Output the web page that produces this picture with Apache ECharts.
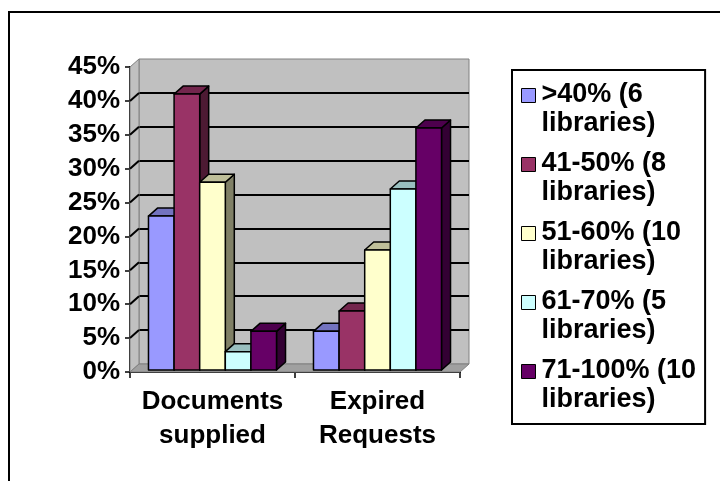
<!DOCTYPE html>
<html>
<head>
<meta charset="utf-8">
<script src="https://cdn.jsdelivr.net/npm/echarts@6/dist/echarts.min.js"></script>
<style>
  html, body { margin: 0; padding: 0; background: #fff; }
  #chart { width: 720px; height: 481px; }
</style>
</head>
<body>
<div id="chart"></div>
<script>
// data
var categories = ["Documents\nsupplied", "Expired\nRequests"];
var seriesNames = [">40% (6 libraries)", "41-50% (8 libraries)", "51-60% (10 libraries)", "61-70% (5 libraries)", "71-100% (10 libraries)"];
var band40 = [23, 6];
var band41to50 = [41, 9];
var band51to60 = [28, 18];
var band61to70 = [3, 27];
var band71to100 = [6, 36];
var yTicks = [0, 45, 5]; // min, max, step

var seriesValues = [band40, band41to50, band51to60, band61to70, band71to100];
var colors = ["#9999FF", "#993366", "#FFFFCC", "#CCFFFF", "#660066"];

// layout of the front plane + 3d depth
var L = 130, T = 67, W = 330, H = 305;
var DX = 9, DY = 8;
var FONT = '"Liberation Sans", Arial, sans-serif';

function shade(hex, k) {
  var n = parseInt(hex.slice(1), 16);
  var r = Math.round(((n >> 16) & 255) * k);
  var g = Math.round(((n >> 8) & 255) * k);
  var b = Math.round((n & 255) * k);
  return "rgb(" + r + "," + g + "," + b + ")";
}

function makeRender(idx) {
  return function (params, api) {
    var cat = api.value(0);
    var val = api.value(1);
    var base = api.coord([cat, 0]);
    var top = api.coord([cat, val]);
    var bandW = api.size([1, 0])[0];
    var groupW = bandW * 0.776;
    var bw = groupW / seriesNames.length;
    var x = base[0] - groupW / 2 + idx * bw;
    var yt = top[1], yb = base[1] - 2;
    var c = colors[idx];
    var line = { stroke: "#000", lineWidth: 1.5, lineJoin: "round" };
    return {
      type: "group",
      children: [
        { type: "polygon", shape: { points: [[x + bw, yt], [x + bw + DX, yt - DY], [x + bw + DX, yb - DY], [x + bw, yb]] },
          style: Object.assign({ fill: shade(c, 0.5) }, line) },
        { type: "polygon", shape: { points: [[x, yt], [x + DX, yt - DY], [x + bw + DX, yt - DY], [x + bw, yt]] },
          style: Object.assign({ fill: shade(c, 0.75) }, line) },
        { type: "rect", shape: { x: x, y: yt, width: bw, height: yb - yt },
          style: Object.assign({ fill: c }, line) }
      ]
    };
  };
}

var series = seriesNames.map(function (name, i) {
  return {
    name: name,
    type: "custom",
    xAxisIndex: 0,
    yAxisIndex: 0,
    clip: false,
    itemStyle: { color: colors[i] },
    encode: { x: 0, y: 1 },
    renderItem: makeRender(i),
    data: seriesValues[i].map(function (v, j) { return [j, v]; })
  };
});

var chart = echarts.init(document.getElementById("chart"));
var option = {
  animation: false,
  backgroundColor: "#fff",
  textStyle: { fontFamily: FONT },
  grid: [
    { left: L, top: T, width: W, height: H, show: false },
    { left: L + DX, top: T - DY, width: W, height: H, show: true,
      backgroundColor: "#C0C0C0", borderColor: "#808080", borderWidth: 1, z: 0 }
  ],
  legend: {
    orient: "vertical",
    left: 512,
    top: 70,
    padding: [10, 9, 9, 9],
    itemGap: 10,
    itemWidth: 15,
    itemHeight: 58,
    // square sits on the first text line; the bare moves only widen the icon box
    icon: "path://M0,0M0,8H14V22H0ZM0,58M15,0",
    itemStyle: { borderColor: "#000", borderWidth: 1 },
    borderColor: "#000",
    borderWidth: 2,
    selectedMode: false,
    textStyle: { fontFamily: FONT, fontSize: 27, fontWeight: "bold", color: "#000", lineHeight: 29 },
    formatter: function (name) { return name.replace(" libraries", "\nlibraries"); },
    data: seriesNames
  },
  xAxis: [
    { type: "category", gridIndex: 0, data: categories,
      axisLine: { lineStyle: { color: "#000", width: 2 } },
      axisTick: { show: true, length: 6, lineStyle: { color: "#000", width: 1.5 } },
      axisLabel: { interval: 0, margin: 13, color: "#000", fontFamily: FONT, fontSize: 26, fontWeight: "bold", lineHeight: 34 },
      splitLine: { show: false } },
    { type: "category", gridIndex: 1, data: categories, show: false }
  ],
  yAxis: [
    { type: "value", gridIndex: 0, min: yTicks[0], max: yTicks[1], interval: yTicks[2],
      axisLine: { show: true, lineStyle: { color: "#000", width: 2 } },
      axisTick: { show: true, length: 5, lineStyle: { color: "#000", width: 1.5 } },
      axisLabel: { formatter: "{value}%", margin: 10, color: "#000", fontFamily: FONT, fontSize: 26, fontWeight: "bold" },
      splitLine: { show: false } },
    { type: "value", gridIndex: 1, min: yTicks[0], max: yTicks[1], interval: yTicks[2],
      axisLine: { show: false }, axisTick: { show: false }, axisLabel: { show: false },
      splitLine: { show: true, showMinLine: false, showMaxLine: false, lineStyle: { color: "#000", width: 2 } } }
  ],
  series: series
};
chart.setOption(option);

// walls, floor and the side-wall grid lines
var graphics = [
  { type: "rect", shape: { x: 9, y: 12, width: 760, height: 520 },
    style: { fill: null, stroke: "#000", lineWidth: 2 }, z: 0, silent: true },
  { type: "polygon", shape: { points: [[L, T], [L + DX, T - DY], [L + DX, T + H - DY], [L, T + H]] },
    style: { fill: "#C0C0C0", stroke: "#808080", lineWidth: 1 }, z: 1, silent: true },
  { type: "polygon", shape: { points: [[L, T + H], [L + DX, T + H - DY], [L + W + DX, T + H - DY], [L + W, T + H]] },
    style: { fill: "#A0A0A0", stroke: "#808080", lineWidth: 1 }, z: 1, silent: true }
];
for (var v = yTicks[0] + yTicks[2]; v < yTicks[1]; v += yTicks[2]) {
  var py = chart.convertToPixel({ yAxisIndex: 0 }, v);
  graphics.push({ type: "line", shape: { x1: L, y1: py, x2: L + DX, y2: py - DY },
    style: { stroke: "#000", lineWidth: 2 }, z: 1, silent: true });
}
chart.setOption({ graphic: graphics });
</script>
</body>
</html>
